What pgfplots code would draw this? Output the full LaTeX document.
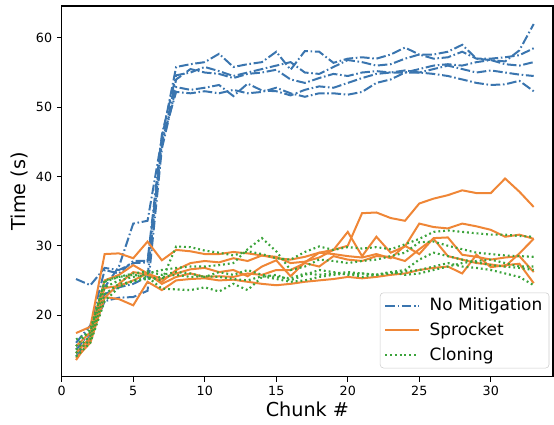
\documentclass[border=0pt]{standalone}
\usepackage{fontspec}
\setmainfont{DejaVu Sans}
\usepackage{pgfplots}
\usepackage{pgfplotstable}
\pgfplotsset{compat=1.18}

\definecolor{nomit}{HTML}{3A75AF}
\definecolor{sprk}{HTML}{EF8636}
\definecolor{clon}{HTML}{3BA33B}

% No Mitigation runs
\pgfplotstableread{
x  b1   b2   b3   b4   b5
1  15.0 16.0 25.2 14.5 14.0
2  17.5 18.5 24.3 17.0 16.5
3  24.0 26.5 26.8 22.0 23.0
4  27.0 26.0 26.5 22.5 24.0
5  33.2 27.8 27.5 22.6 24.5
6  33.6 27.8 27.6 23.5 25.5
7  45.5 46.0 44.5 44.0 45.0
8  55.8 54.6 54.0 52.9 52.2
9  56.2 55.0 55.5 52.5 52.0
10 56.5 55.8 55.0 52.8 52.3
11 57.7 55.2 54.8 53.2 52.0
12 55.8 54.5 54.2 51.6 52.5
13 56.2 55.0 54.8 53.4 52.0
14 56.5 55.5 55.0 52.4 52.2
15 58.0 56.0 55.4 52.3 52.8
16 55.4 56.5 54.0 51.7 52.0
17 58.1 55.0 53.5 52.5 51.5
18 58.0 54.8 54.2 53.0 52.0
19 56.4 55.8 54.8 52.8 52.0
20 57.0 56.8 54.5 53.5 51.8
21 57.2 56.5 55.0 54.2 52.2
22 57.0 56.0 55.2 54.8 53.5
23 57.6 56.2 55.0 55.0 54.0
24 58.6 57.0 55.0 55.3 55.0
25 57.6 57.6 55.5 55.0 55.0
26 57.6 57.0 56.0 55.5 54.8
27 58.0 57.2 56.2 56.0 54.5
28 59.0 58.0 56.0 55.5 54.0
29 57.0 57.0 56.5 55.0 53.5
30 56.8 57.0 56.8 55.3 53.2
31 56.6 57.2 56.2 55.0 53.3
32 58.2 57.5 56.0 54.7 53.8
33 62.0 58.5 56.5 54.5 52.3
}\nomit

% Sprocket runs
\pgfplotstableread{
x  o1   o2   o3   o4   o5
1  17.4 13.5 15.5 14.5 13.8
2  18.3 16.5 17.5 16.8 16.0
3  28.8 22.5 25.0 23.9 22.6
4  28.9 24.5 25.8 24.2 22.3
5  28.2 26.2 27.2 25.0 21.4
6  30.6 25.8 26.0 26.0 24.8
7  27.9 24.8 25.2 24.5 23.6
8  29.4 26.5 26.0 25.5 25.0
9  29.2 27.5 26.6 26.0 25.2
10 28.8 27.8 26.8 25.5 25.3
11 28.8 27.6 26.2 25.6 25.0
12 29.1 28.2 26.5 25.5 25.1
13 28.9 27.8 25.6 26.0 24.8
14 28.6 28.6 27.0 25.8 24.5
15 28.2 28.4 27.9 26.5 24.3
16 28.0 27.5 25.6 26.5 24.5
17 28.4 27.7 27.6 27.5 24.8
18 29.0 28.3 29.0 27.0 25.0
19 29.4 29.4 28.8 28.5 25.2
20 30.0 32.0 28.5 28.0 25.5
21 34.7 28.5 28.3 27.8 25.3
22 34.8 31.3 28.8 28.5 25.5
23 34.0 29.0 28.2 28.4 25.8
24 33.6 29.9 30.0 27.8 26.0
25 36.1 33.2 28.8 29.5 26.5
26 36.8 32.7 31.1 31.0 26.8
27 37.3 32.5 31.2 28.5 27.0
28 38.0 33.2 28.7 28.0 26.0
29 37.6 32.8 28.4 27.5 28.7
30 37.6 32.3 28.0 27.3 26.9
31 39.7 31.3 28.3 27.0 27.2
32 37.8 31.6 28.5 28.9 27.4
33 35.6 31.0 26.2 31.0 24.6
}\sprk

% Cloning runs
\pgfplotstableread{
x  g1   g2   g3   g4   g5
1  16.5 15.0 14.5 15.5 14.0
2  17.5 17.0 16.5 18.0 16.0
3  25.0 24.0 23.0 24.8 22.0
4  25.5 25.0 24.5 25.5 24.0
5  25.8 25.5 24.8 26.0 25.0
6  25.5 26.0 25.5 26.3 25.2
7  25.0 26.5 23.8 25.8 25.5
8  29.9 26.8 23.7 26.2 25.8
9  29.8 27.0 23.6 26.0 25.5
10 29.3 27.0 24.0 25.5 25.6
11 29.0 27.2 23.4 26.2 25.5
12 28.6 27.5 24.5 25.8 25.2
13 29.2 29.5 23.6 26.5 25.0
14 28.8 31.1 25.5 25.8 25.6
15 28.2 29.2 25.8 25.5 25.2
16 28.0 26.5 25.0 25.3 24.8
17 29.1 27.0 25.8 26.0 25.0
18 29.9 28.0 26.5 25.8 25.5
19 29.4 27.8 26.2 26.0 25.8
20 29.8 27.5 25.8 26.2 26.0
21 29.6 27.8 26.0 26.0 25.5
22 29.8 28.0 25.8 25.8 25.8
23 29.5 28.5 26.2 26.0 26.2
24 30.2 29.0 26.5 26.3 25.8
25 31.0 30.5 28.0 26.5 26.0
26 32.0 30.6 29.0 27.0 26.5
27 32.2 30.0 28.5 27.5 27.0
28 32.0 29.5 28.0 27.0 27.5
29 31.8 29.0 27.6 26.8 27.8
30 31.6 28.8 27.2 26.5 28.0
31 31.6 28.6 27.0 26.0 27.5
32 31.4 28.5 26.8 25.5 27.0
33 31.3 28.4 26.5 24.3 27.0
}\clon

\begin{document}
\begin{tikzpicture}
\begin{axis}[
    scale only axis,
    width=368.4pt, height=278pt,
    xmin=0, xmax=34.35,
    ymin=11.1, ymax=64.6,
    xtick={0,5,...,30},
    ytick={20,30,...,60},
    tick align=outside,
    tick pos=left,
    major tick length=3.7pt,
    every tick/.style={black, line width=0.8pt},
    axis line style={line width=0.8pt},
    /pgf/number format/assume math mode=true,
    ticklabel style={font=\fontsize{9.5}{11}\selectfont},
    xlabel={Chunk \#},
    ylabel={Time (s)},
    label style={font=\fontsize{14.4}{16}\selectfont},
    xlabel style={anchor=base, at={(axis description cs:0.5,0)}, yshift=-30.2pt},
    ylabel style={anchor=base, at={(axis description cs:0,0.5)}, yshift=27.5pt},
    legend style={at={([xshift=-2.8pt,yshift=6.3pt]axis description cs:1,0)},
        anchor=south east,
        draw=black!20, rounded corners=2.5pt, fill=white,
        font=\fontsize{12.7}{15}\selectfont,
        row sep=3.5pt,
        /tikz/every odd column/.append style={column sep=5.5pt}},
    legend cell align=left,
    legend image code/.code={\draw[#1] (0pt,0pt) -- (25pt,0pt);},
    nm/.style={color=nomit, line width=1.5pt, dash pattern=on 7.2pt off 2pt on 1.2pt off 2pt},
    sp/.style={color=sprk, line width=1.5pt},
    cl/.style={color=clon, line width=1.6pt, dash pattern=on 1.4pt off 2.2pt},
]
\addplot[nm] table[x=x, y=b1] {\nomit};
\addlegendentry{No Mitigation}
\addplot[nm, forget plot] table[x=x, y=b2] {\nomit};
\addplot[nm, forget plot] table[x=x, y=b3] {\nomit};
\addplot[nm, forget plot] table[x=x, y=b4] {\nomit};
\addplot[nm, forget plot] table[x=x, y=b5] {\nomit};

\addplot[sp] table[x=x, y=o1] {\sprk};
\addlegendentry{Sprocket}
\addplot[sp, forget plot] table[x=x, y=o2] {\sprk};
\addplot[sp, forget plot] table[x=x, y=o3] {\sprk};
\addplot[sp, forget plot] table[x=x, y=o4] {\sprk};
\addplot[sp, forget plot] table[x=x, y=o5] {\sprk};

\addplot[cl] table[x=x, y=g1] {\clon};
\addlegendentry{Cloning}
\addplot[cl, forget plot] table[x=x, y=g2] {\clon};
\addplot[cl, forget plot] table[x=x, y=g3] {\clon};
\addplot[cl, forget plot] table[x=x, y=g4] {\clon};
\addplot[cl, forget plot] table[x=x, y=g5] {\clon};
\end{axis}
\pgfresetboundingbox
\path[use as bounding box] ([shift={(-46.3pt,-36.2pt)}]current axis.south west)
    rectangle ([shift={(0.75pt,4.5pt)}]current axis.north east);
\end{tikzpicture}
\end{document}
